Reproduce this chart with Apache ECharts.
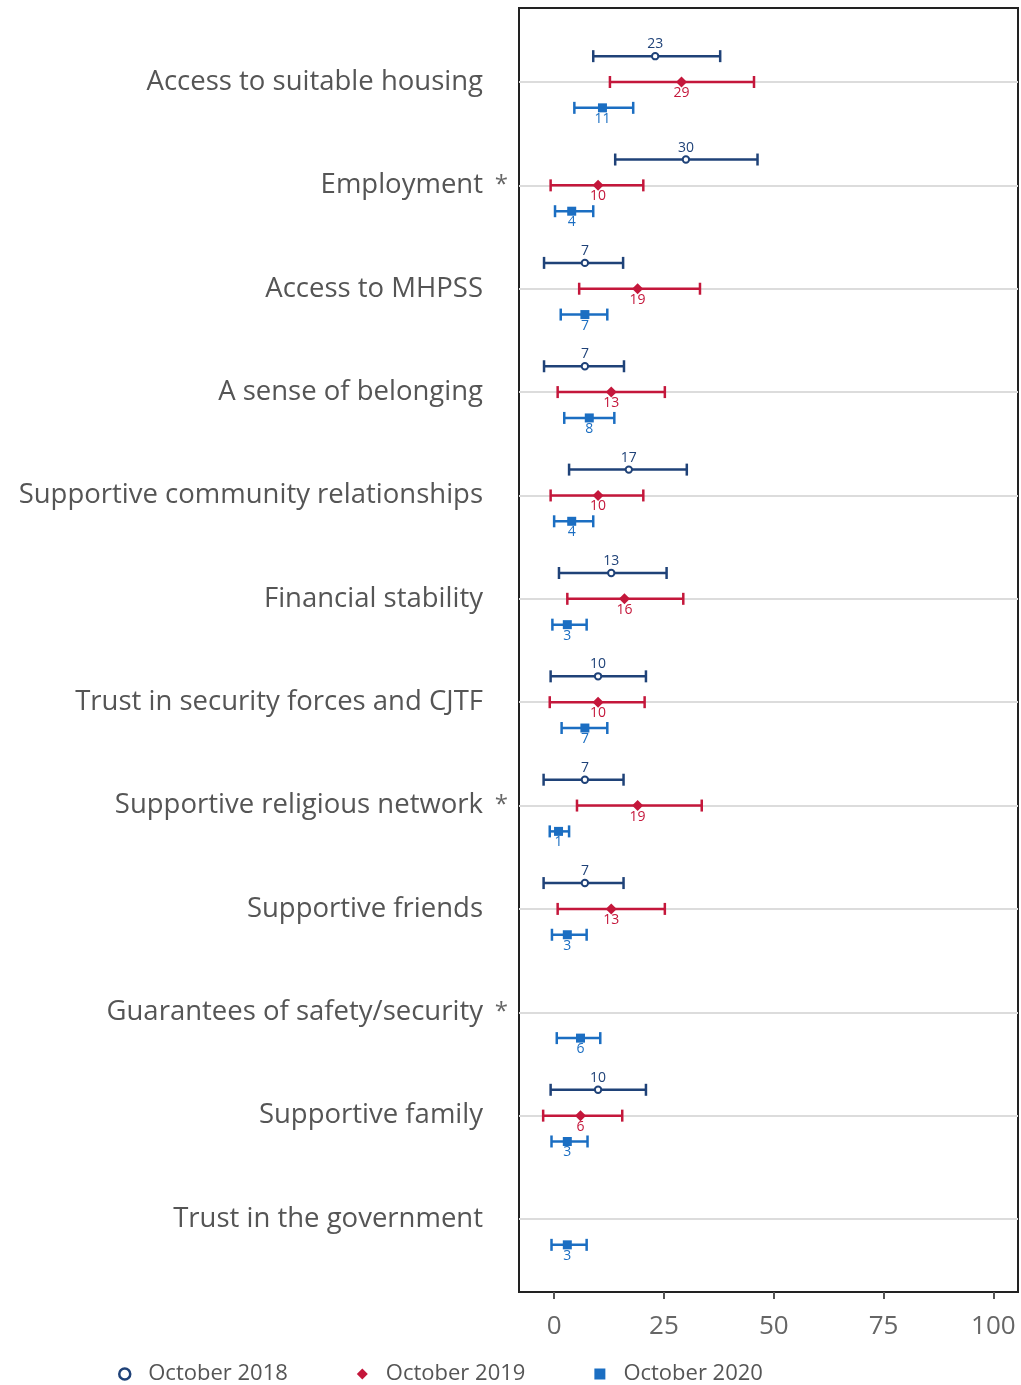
<!DOCTYPE html>
<html>
<head>
<meta charset="utf-8">
<script src="https://cdn.jsdelivr.net/npm/echarts@6/dist/echarts.min.js"></script>
<style>
  html, body { margin: 0; padding: 0; background: #fff; }
  #chart { width: 1021px; height: 1385px; }
</style>
</head>
<body>
<div id="chart"></div>
<script>
// Factors, top to bottom
const categories = [
  'Access to suitable housing',
  'Employment',
  'Access to MHPSS',
  'A sense of belonging',
  'Supportive community relationships',
  'Financial stability',
  'Trust in security forces and CJTF',
  'Supportive religious network',
  'Supportive friends',
  'Guarantees of safety/security',
  'Supportive family',
  'Trust in the government'
];
// Factors flagged with an asterisk
const flagged = [false, true, false, false, false, false, false, true, false, true, false, false];

// Percentages with confidence interval bounds (null = not asked that round)
const oct2018 = [23, 30, 7, 7, 17, 13, 10, 7, 7, null, 10, null];
const oct2018Low = [8.9, 13.9, -2.3, -2.3, 3.4, 1.1, -0.8, -2.4, -2.4, null, -0.8, null];
const oct2018High = [37.8, 46.3, 15.7, 15.9, 30.2, 25.6, 20.9, 15.8, 15.8, null, 20.9, null];

const oct2019 = [29, 10, 19, 13, 10, 16, 10, 19, 13, null, 6, null];
const oct2019Low = [12.7, -0.8, 5.7, 0.8, -0.8, 3.0, -1.0, 5.2, 0.8, null, -2.5, null];
const oct2019High = [45.5, 20.3, 33.2, 25.2, 20.3, 29.4, 20.6, 33.6, 25.2, null, 15.5, null];

const oct2020 = [11, 4, 7, 8, 4, 3, 7, 1, 3, 6, 3, 3];
const oct2020Low = [4.6, 0.2, 1.5, 2.3, 0.0, -0.4, 1.7, -1.0, -0.5, 0.6, -0.6, -0.6];
const oct2020High = [18.0, 8.9, 12.1, 13.7, 8.9, 7.4, 12.1, 3.4, 7.4, 10.5, 7.6, 7.4];

const xTicks = [0, 25, 50, 75, 100];
const seriesNames = ['October 2018', 'October 2019', 'October 2020'];

const NAVY = '#1f4278';
const RED = '#c4173b';
const BLUE = '#1b6ec2';
const FONT = '"Open Sans", Lato, sans-serif';

function rows(vals, lows, highs) {
  const out = [];
  vals.forEach((v, i) => {
    if (v !== null) out.push([v, lows[i], highs[i], i]);
  });
  return out;
}

// Error bar + marker + value label; offset is a fraction of the row spacing
function makeRender(offset, shape, color, labelAbove) {
  return function (params, api) {
    const cat = api.value(3);
    const band = api.size([0, 1])[1];
    const dy = offset * band;
    const c = api.coord([api.value(0), cat]);
    const l = api.coord([api.value(1), cat]);
    const h = api.coord([api.value(2), cat]);
    const y = c[1] + dy;
    const cap = 6;
    const children = [
      { type: 'line', shape: { x1: l[0], y1: y, x2: h[0], y2: y }, style: { stroke: color, lineWidth: 2.5 } },
      { type: 'line', shape: { x1: l[0], y1: y - cap, x2: l[0], y2: y + cap }, style: { stroke: color, lineWidth: 2.5 } },
      { type: 'line', shape: { x1: h[0], y1: y - cap, x2: h[0], y2: y + cap }, style: { stroke: color, lineWidth: 2.5 } }
    ];
    if (shape === 'circle') {
      children.push({ type: 'circle', shape: { cx: c[0], cy: y, r: 3.2 }, style: { fill: '#fff', stroke: color, lineWidth: 2 } });
    } else if (shape === 'diamond') {
      const s = 5.5;
      children.push({ type: 'polygon', shape: { points: [[c[0], y - s], [c[0] + s, y], [c[0], y + s], [c[0] - s, y]] }, style: { fill: color } });
    } else {
      const s = 4.5;
      children.push({ type: 'rect', shape: { x: c[0] - s, y: y - s, width: 2 * s, height: 2 * s }, style: { fill: color } });
    }
    children.push({
      type: 'text',
      style: {
        x: c[0], y: labelAbove ? y - 5 : y + 4,
        text: String(api.value(0)),
        fill: color, font: '14px ' + FONT,
        align: 'center', verticalAlign: labelAbove ? 'bottom' : 'top'
      }
    });
    return { type: 'group', children: children };
  };
}

const chart = echarts.init(document.getElementById('chart'), null, { renderer: 'canvas' });

chart.setOption({
  animation: false,
  backgroundColor: '#fff',
  grid: [
    { left: 519, right: 3, top: 8, bottom: 93, show: true, borderColor: '#222', borderWidth: 2, backgroundColor: 'transparent' },
    { left: 519, right: 3, top: 82, bottom: 166 }
  ],
  xAxis: [
    {
      type: 'value', gridIndex: 0, min: -8, max: 105.6,
      splitLine: { show: false },
      axisLine: { show: false },
      axisTick: { show: true, length: 7, lineStyle: { color: '#555', width: 2 }, customValues: xTicks },
      axisLabel: { fontSize: 26, color: '#666', fontFamily: FONT, margin: 22, customValues: xTicks }
    },
    { type: 'value', gridIndex: 1, min: -8, max: 105.6, show: false, splitLine: { show: false } }
  ],
  yAxis: [
    { type: 'value', gridIndex: 0, show: false, splitLine: { show: false } },
    {
      type: 'category', gridIndex: 1, data: categories, inverse: true, boundaryGap: false,
      axisLine: { show: false }, axisTick: { show: false },
      splitLine: { show: true, lineStyle: { color: '#dcdcdc', width: 2 } },
      axisLabel: { fontSize: 27.5, color: '#555', fontFamily: FONT, margin: 36, interval: 0, padding: [6, 0, 0, 0] }
    },
    {
      type: 'category', gridIndex: 1, data: categories, inverse: true, boundaryGap: false, position: 'left',
      axisLine: { show: false }, axisTick: { show: false }, splitLine: { show: false },
      axisLabel: {
        fontSize: 24, color: '#666', fontFamily: FONT, margin: 11, interval: 0, padding: [6, 0, 0, 0],
        formatter: (v, i) => (flagged[i] ? '*' : '')
      }
    }
  ],
  legend: {
    top: 1358, left: 113,
    itemGap: 69, itemWidth: 11, itemHeight: 11,
    textStyle: { fontSize: 22, color: '#555', fontFamily: FONT, padding: [0, 0, 0, 13] },
    data: [
      { name: seriesNames[0], icon: 'circle', itemStyle: { color: '#fff', borderColor: NAVY, borderWidth: 2.5 } },
      { name: seriesNames[1], icon: 'diamond', itemStyle: { color: RED } },
      { name: seriesNames[2], icon: 'rect', itemStyle: { color: BLUE } }
    ]
  },
  series: [
    {
      name: seriesNames[0], type: 'custom', xAxisIndex: 1, yAxisIndex: 1,
      itemStyle: { color: NAVY },
      renderItem: makeRender(-0.25, 'circle', NAVY, true),
      encode: { x: [0, 1, 2], y: 3 },
      data: rows(oct2018, oct2018Low, oct2018High)
    },
    {
      name: seriesNames[1], type: 'custom', xAxisIndex: 1, yAxisIndex: 1,
      itemStyle: { color: RED },
      renderItem: makeRender(0, 'diamond', RED, false),
      encode: { x: [0, 1, 2], y: 3 },
      data: rows(oct2019, oct2019Low, oct2019High)
    },
    {
      name: seriesNames[2], type: 'custom', xAxisIndex: 1, yAxisIndex: 1,
      itemStyle: { color: BLUE },
      renderItem: makeRender(0.25, 'square', BLUE, false),
      encode: { x: [0, 1, 2], y: 3 },
      data: rows(oct2020, oct2020Low, oct2020High)
    }
  ]
});
</script>
</body>
</html>
